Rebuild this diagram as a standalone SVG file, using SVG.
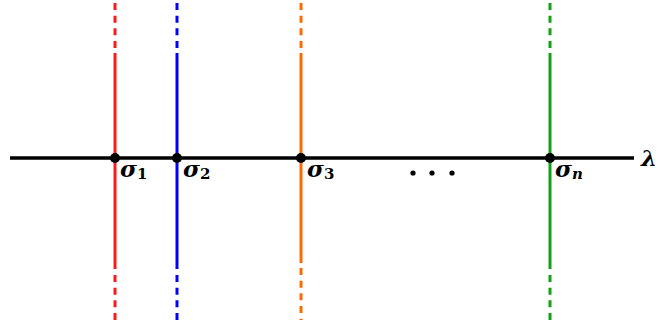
<svg xmlns="http://www.w3.org/2000/svg" width="659" height="320" viewBox="0 0 659 320">
<style>
.v{stroke-width:3;fill:none}
.d{stroke-dasharray:7 5.67}
.lab{font-family:"DejaVu Serif","Liberation Serif",serif;font-weight:bold;fill:#000}
.sig{font-size:23px;font-style:italic}
.sub{font-size:15px}
</style>
<rect width="659" height="320" fill="#fff"/>
<g id="connectors">
<g id="line-s1" stroke="#ff1a1a">
<line class="v d" x1="115" y1="3" x2="115" y2="48"/>
<line class="v" x1="115" y1="53" x2="115" y2="269"/>
<line class="v d" x1="115" y1="275" x2="115" y2="320"/>
</g>
<g id="line-s2" stroke="#0000ff">
<line class="v d" x1="177" y1="3" x2="177" y2="48"/>
<line class="v" x1="177" y1="53" x2="177" y2="269"/>
<line class="v d" x1="177" y1="275" x2="177" y2="320"/>
</g>
<g id="line-s3" stroke="#ff6a00">
<line class="v d" x1="301" y1="3" x2="301" y2="48"/>
<line class="v" x1="301" y1="53" x2="301" y2="263"/>
<line class="v d" x1="301" y1="268" x2="301" y2="320"/>
</g>
<g id="line-sn" stroke="#14a014">
<line class="v d" x1="550" y1="3" x2="550" y2="48"/>
<line class="v" x1="550" y1="53" x2="550" y2="269"/>
<line class="v d" x1="550" y1="275" x2="550" y2="320"/>
</g>
<line id="axis" x1="10" y1="158" x2="634" y2="158" stroke="#000" stroke-width="3.5"/>
</g>
<g id="node-s1"><circle cx="115" cy="158" r="5" fill="#000"/><text class="lab" x="120" y="177"><tspan class="sig">σ</tspan><tspan class="sub" dy="2">1</tspan></text></g>
<g id="node-s2"><circle cx="177" cy="158" r="5" fill="#000"/><text class="lab" x="183" y="177"><tspan class="sig">σ</tspan><tspan class="sub" dy="2">2</tspan></text></g>
<g id="node-s3"><circle cx="301" cy="158" r="5" fill="#000"/><text class="lab" x="307" y="177"><tspan class="sig">σ</tspan><tspan class="sub" dy="2">3</tspan></text></g>
<g id="ellipsis"><circle cx="413" cy="173" r="2.6" fill="#000"/><circle cx="432" cy="173" r="2.6" fill="#000"/><circle cx="452" cy="173" r="2.6" fill="#000"/></g>
<g id="node-sn"><circle cx="550" cy="158" r="5" fill="#000"/><text class="lab" x="555" y="177"><tspan class="sig">σ</tspan><tspan class="sub" dy="2" font-style="italic">n</tspan></text></g>
<g id="node-lambda"><text class="lab" x="641" y="166" font-size="23" font-style="italic">λ</text></g>
</svg>
